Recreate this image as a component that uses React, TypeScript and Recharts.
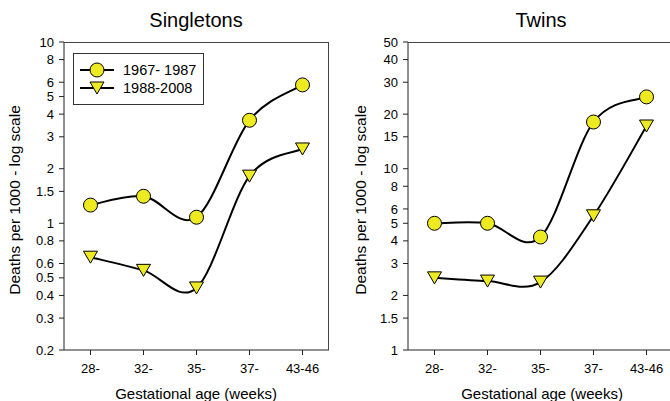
import React from "react";
import { LineChart, Line, XAxis, YAxis } from "recharts";

const ages = ["28-", "32-", "35-", "37-", "43-46"];
const singEarly = [1.26, 1.41, 1.08, 3.7, 5.8];
const singLate = [0.65, 0.55, 0.44, 1.82, 2.57];
const twinEarly = [5.0, 5.0, 4.2, 18.1, 24.9];
const twinLate = [2.5, 2.4, 2.37, 5.5, 17.2];
const singTicks = [0.2, 0.3, 0.4, 0.5, 0.6, 0.8, 1, 1.5, 2, 3, 4, 5, 6, 8, 10];
const twinTicks = [1, 1.5, 2, 3, 4, 5, 6, 8, 10, 15, 20, 30, 40, 50];
const legendNames = ["1967- 1987", "1988-2008"];

const YELLOW = "#eeea22";
const FONT = "'Liberation Sans', Arial, sans-serif";

// catmull-rom style spline, close to the sigmaplot curve
function spline(context: any) {
  let pts: number[][] = [];
  return {
    areaStart() {},
    areaEnd() {},
    lineStart() {
      pts = [];
    },
    point(x: number, y: number) {
      pts.push([+x, +y]);
    },
    lineEnd() {
      if (!pts.length) return;
      context.moveTo(pts[0][0], pts[0][1]);
      const k = 1 / 6;
      for (let i = 0; i < pts.length - 1; i++) {
        const p0 = pts[i - 1] || pts[i];
        const p1 = pts[i];
        const p2 = pts[i + 1];
        const p3 = pts[i + 2] || p2;
        context.bezierCurveTo(
          p1[0] + (p2[0] - p0[0]) * k,
          p1[1] + (p2[1] - p0[1]) * k,
          p2[0] - (p3[0] - p1[0]) * k,
          p2[1] - (p3[1] - p1[1]) * k,
          p2[0],
          p2[1]
        );
      }
    },
  };
}

const Triangle = (props: any) => {
  const { cx, cy, index } = props;
  if (cx == null || cy == null) return null;
  return (
    <path
      key={index}
      d={`M${cx - 7},${cy - 6}L${cx + 7},${cy - 6}L${cx},${cy + 6}Z`}
      fill={YELLOW}
      stroke="#000"
      strokeWidth={1}
    />
  );
};

const LegendBox = () => (
  <div
    style={{
      position: "absolute",
      left: 73,
      top: 53,
      width: 129,
      height: 50,
      border: "1px solid #333",
      background: "#fff",
      fontFamily: FONT,
      fontSize: 14.5,
      color: "#000",
    }}
  >
    {legendNames.map((name, i) => (
      <div key={i} style={{ position: "absolute", left: 0, top: 7 + i * 18, height: 18, display: "flex", alignItems: "center" }}>
        <svg width={48} height={18}>
          <line x1={6} y1={9} x2={40} y2={9} stroke="#000" strokeWidth={2} />
          {i === 0 ? (
            <circle cx={23} cy={9} r={7} fill={YELLOW} stroke="#000" />
          ) : (
            <path d="M16,3L30,3L23,15Z" fill={YELLOW} stroke="#000" />
          )}
        </svg>
        <span style={{ marginLeft: 1 }}>{name}</span>
      </div>
    ))}
  </div>
);

const tickStyle = { fontSize: 13, fill: "#000", fontFamily: FONT };

function Panel({
  early,
  late,
  ticks,
  domain,
  yWidth,
  width,
  rightMargin,
}: {
  early: number[];
  late: number[];
  ticks: number[];
  domain: [number, number];
  yWidth: number;
  width: number;
  rightMargin: number;
}) {
  const data = ages.map((a, i) => ({ age: a, early: early[i], late: late[i] }));
  return (
    <LineChart width={width} height={401} data={data} margin={{ top: 42, right: rightMargin, bottom: 0, left: 0 }}>
      <XAxis
        dataKey="age"
        height={51}
        padding={{ left: 26.5, right: 26.5 }}
        tick={tickStyle}
        tickSize={5}
        tickMargin={9}
        stroke="#222"
        tickLine={{ stroke: "#222" }}
        interval={0}
      />
      <YAxis
        scale="log"
        type="number"
        domain={domain}
        ticks={ticks}
        allowDataOverflow
        width={yWidth}
        tick={tickStyle}
        tickSize={5}
        tickMargin={5}
        interval={0}
        stroke="#222"
        tickFormatter={(v: number) => String(v)}
      />
      <Line
        dataKey="early"
        type={spline as any}
        stroke="#000"
        strokeWidth={2}
        dot={{ r: 7, fill: YELLOW, stroke: "#000", strokeWidth: 1 }}
        isAnimationActive={false}
      />
      <Line
        dataKey="late"
        type={spline as any}
        stroke="#000"
        strokeWidth={2}
        dot={Triangle}
        isAnimationActive={false}
      />
    </LineChart>
  );
}

const textBase: React.CSSProperties = { position: "absolute", fontFamily: FONT, color: "#000", textAlign: "center", whiteSpace: "nowrap" };
const frame: React.CSSProperties = {
  position: "absolute",
  top: 42,
  width: 265,
  height: 308,
  borderTop: "1px solid #444",
  borderRight: "1px solid #444",
  boxSizing: "border-box",
  pointerEvents: "none",
};

export default function App() {
  return (
    <div style={{ position: "absolute", left: 0, top: 0, width: 670, height: 401, overflow: "hidden", background: "#fff" }}>
      <div style={{ position: "absolute", left: 0, top: 0 }}>
        <Panel early={singEarly} late={singLate} ticks={singTicks} domain={[0.2, 10]} yWidth={64} width={335} rightMargin={6} />
      </div>
      <div style={{ position: "absolute", left: 335, top: 0 }}>
        <Panel early={twinEarly} late={twinLate} ticks={twinTicks} domain={[1, 50]} yWidth={73} width={340} rightMargin={2} />
      </div>
      <div style={{ ...frame, left: 64 }} />
      <div style={{ ...frame, left: 408 }} />
      <LegendBox />

      <div style={{ ...textBase, left: 96, width: 200, top: 10, fontSize: 20, lineHeight: "20px" }}>Singletons</div>
      <div style={{ ...textBase, left: 441, width: 200, top: 10, fontSize: 20, lineHeight: "20px" }}>Twins</div>

      <div style={{ ...textBase, left: 46, width: 300, top: 386, fontSize: 15, lineHeight: "15px" }}>Gestational age (weeks)</div>
      <div style={{ ...textBase, left: 392, width: 300, top: 386, fontSize: 15, lineHeight: "15px" }}>Gestational age (weeks)</div>

      <div style={{ ...textBase, left: 15 - 100, top: 200 - 8, width: 200, fontSize: 15.5, lineHeight: "16px", transform: "rotate(-90deg)" }}>
        Deaths per 1000 - log scale
      </div>
      <div style={{ ...textBase, left: 361 - 100, top: 200 - 8, width: 200, fontSize: 15.5, lineHeight: "16px", transform: "rotate(-90deg)" }}>
        Deaths per 1000 - log scale
      </div>
    </div>
  );
}
